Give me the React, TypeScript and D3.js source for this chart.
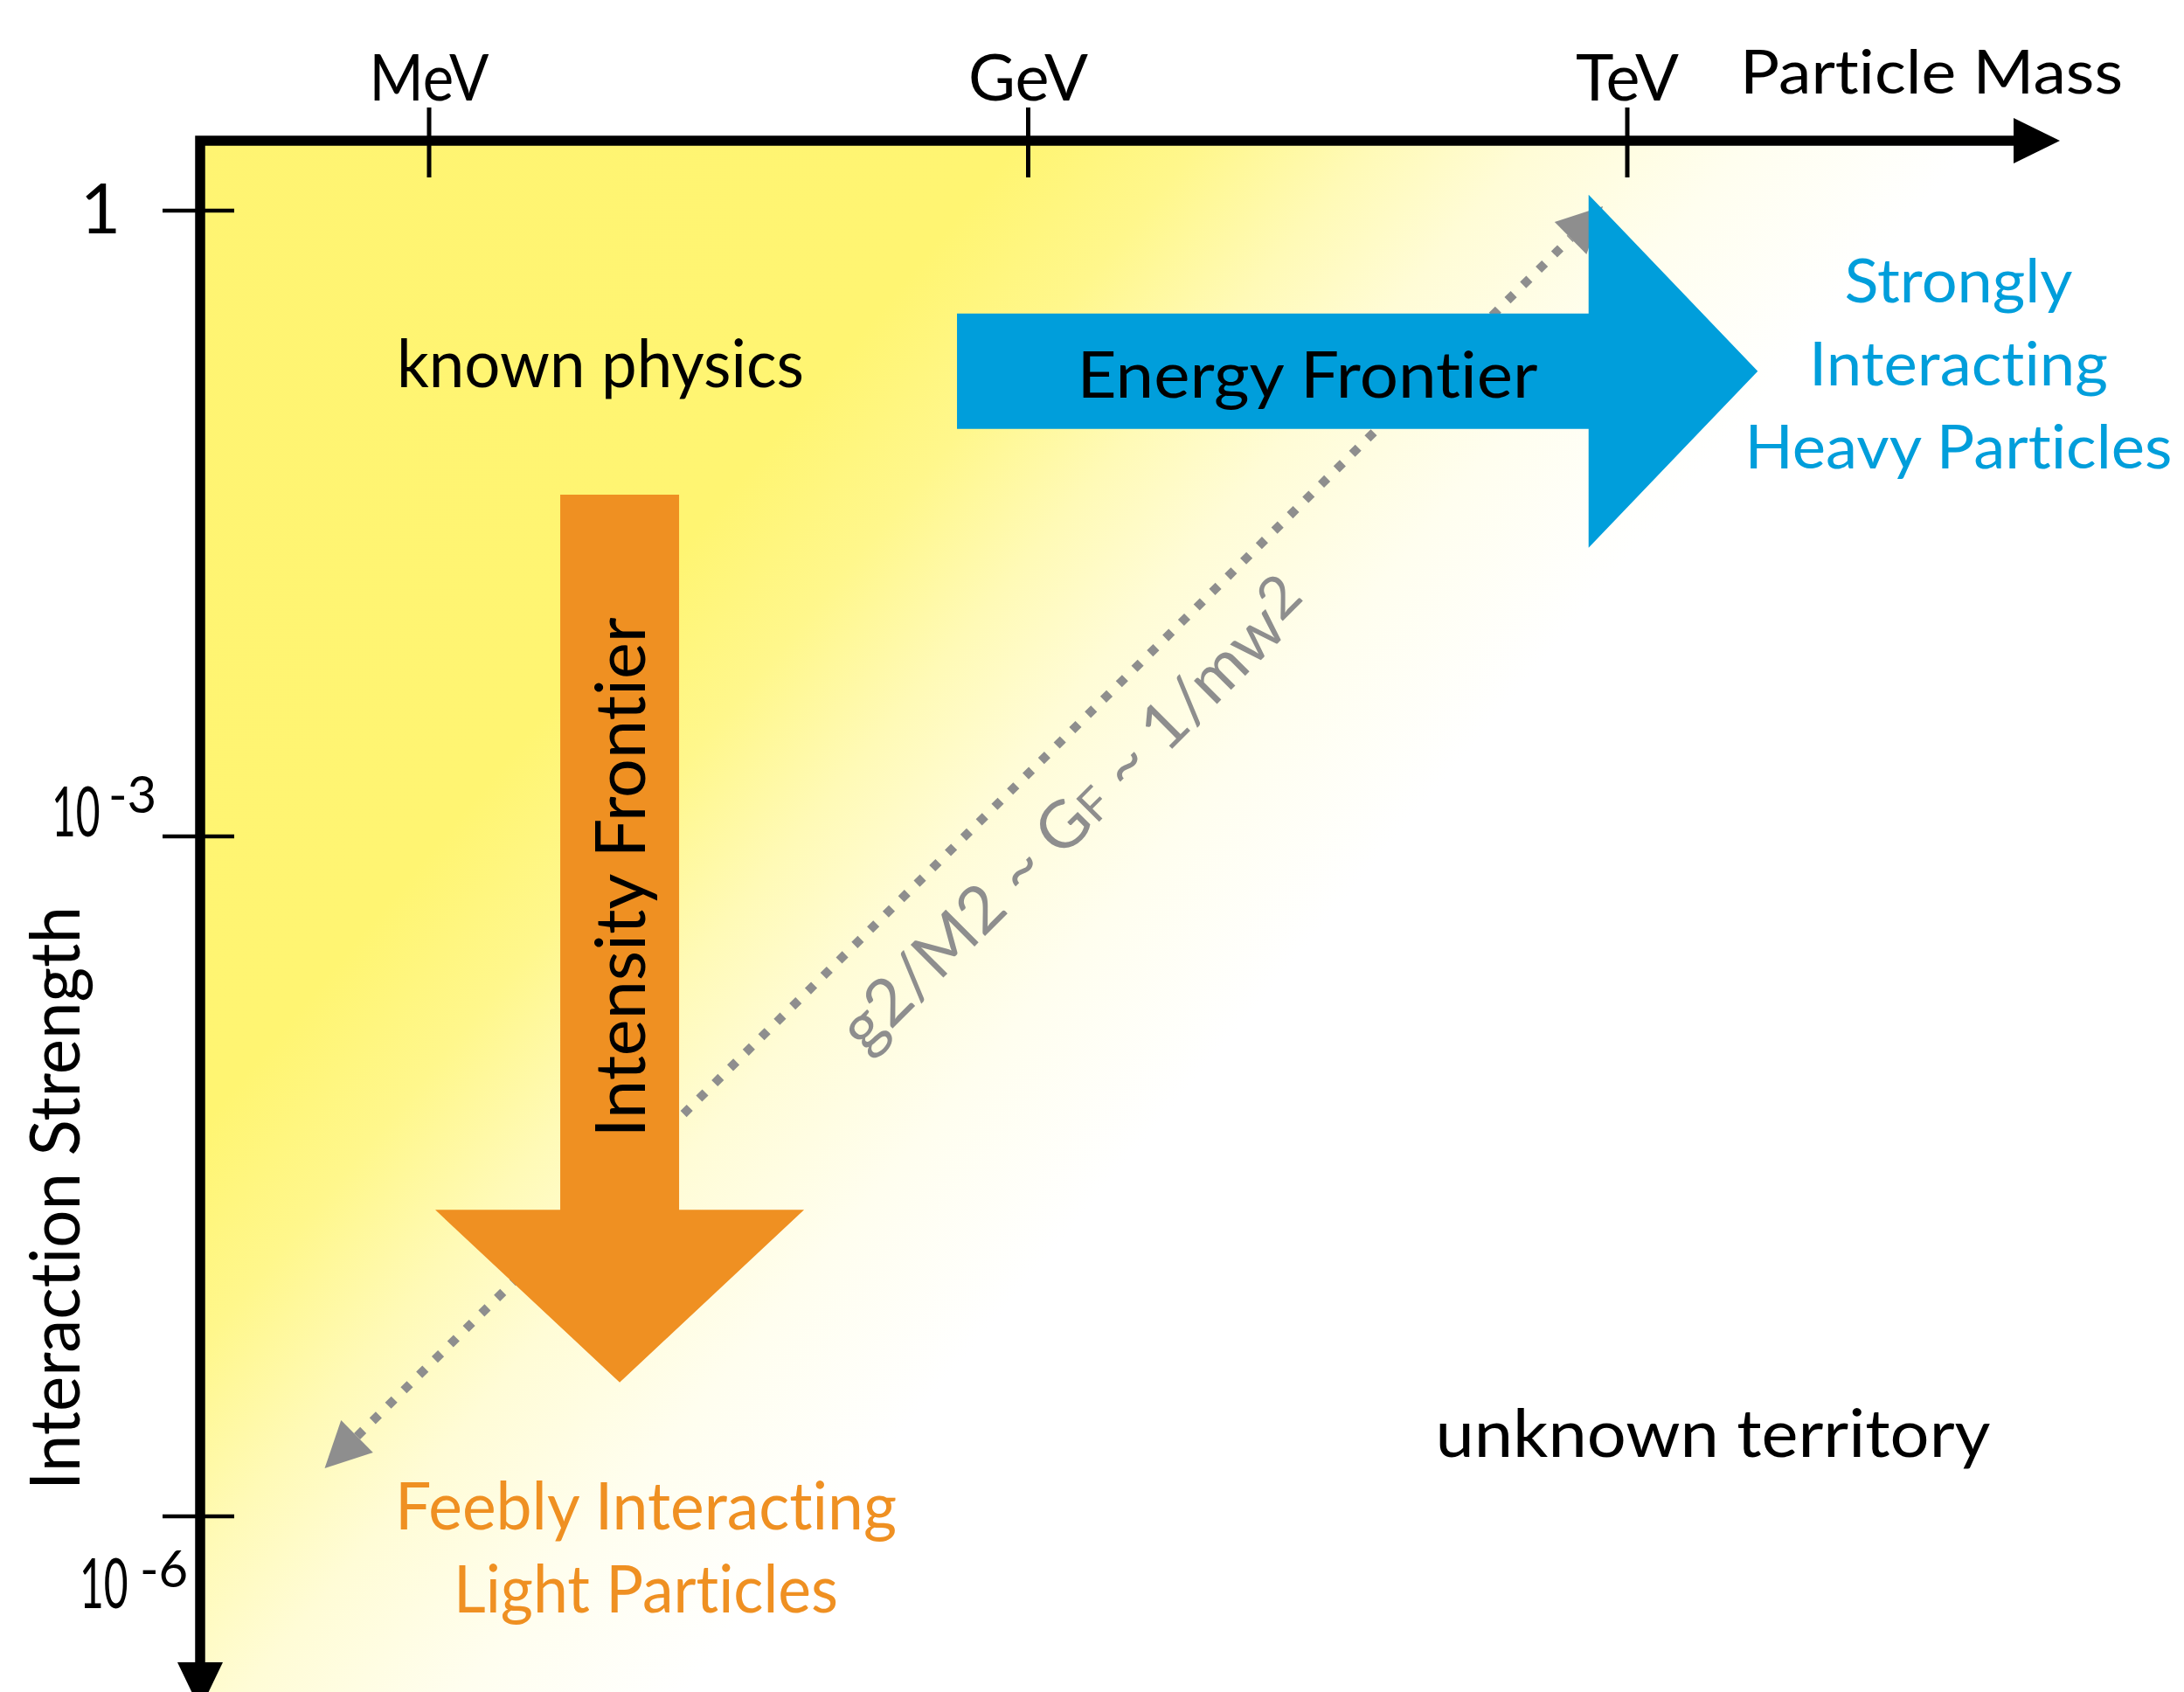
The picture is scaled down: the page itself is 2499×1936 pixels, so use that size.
import { FC, ReactNode } from 'react';
import * as d3 from 'd3';

const WIDTH = 2499;
const HEIGHT = 1936;
const FONT = "Lato, 'Open Sans', sans-serif";

// axis ticks (particle mass in eV, interaction strength)
const massTicks = [1e6, 1e9, 1e12];
const massLabels = ['MeV', 'GeV', 'TeV'];
const couplingTicks = [1, 1e-3, 1e-6];
const couplingBase = ['1', '10', '10'];
const couplingExp = ['', '-3', '-6'];

// annotations, in data units (mass eV / coupling)
const energyMass = [4.4e8, 6.4e11, 4.5e12]; // shaft start, head base, tip
const energyCoupling = 0.17;
const intensityMass = 9e6;
const intensityCoupling = [0.0435, 2.25e-5, 3.9e-6]; // shaft start, head base, tip
const scalingMass = [3.0e5, 7.55e11];
const scalingCoupling = [1.63e-6, 1.05];

const heavyLines = ['Strongly', 'Interacting', 'Heavy Particles'];
const lightLines = ['Feebly Interacting', 'Light Particles'];

const BLUE = '#009edb';
const ORANGE = '#ef9022';
const GRAY = '#8e8e8e';

interface LabelProps {
  x: number;
  y: number;
  len?: number;
  size: number;
  fill?: string;
  anchor?: 'start' | 'middle' | 'end';
  rotate?: number;
  children: ReactNode;
}

const Label: FC<LabelProps> = ({ x, y, len, size, fill = '#000', anchor = 'middle', rotate = 0, children }) => (
  <text
    x={x}
    y={y}
    fontSize={size}
    fill={fill}
    textAnchor={anchor}
    textLength={len}
    lengthAdjust={len ? 'spacingAndGlyphs' : undefined}
    transform={rotate ? `rotate(${rotate} ${x} ${y})` : undefined}
  >
    {children}
  </text>
);

// "10" squeezed narrow like the original face, exponent raised beside it
const PowerLabel: FC<{ x: number; y: number; expX: number; expY: number; base: string; exp: string }> = ({
  x, y, expX, expY, base, exp,
}) => (
  <g>
    <text transform={`translate(${x},${y}) scale(0.6,1)`} fontSize={80}>{base}</text>
    <text x={expX} y={expY} fontSize={58}>{exp}</text>
  </g>
);

const App: FC = () => {
  const xScale = d3.scaleLog().domain([1e6, 1e12]).range([491, 1862]);
  const yScale = d3.scaleLog().domain(couplingTicks).range([241, 957, 1735]);

  const axisX = 229;
  const axisY = 161;

  // energy frontier arrow (pointing right)
  const ey = yScale(energyCoupling);
  const [ex0, ex1, ex2] = energyMass.map((m) => xScale(m));
  const energyPath = d3.line()([
    [ex0, ey - 66], [ex1, ey - 66], [ex1, ey - 202], [ex2, ey],
    [ex1, ey + 202], [ex1, ey + 66], [ex0, ey + 66],
  ]) + 'Z';

  // intensity frontier arrow (pointing down)
  const ix = xScale(intensityMass);
  const [iy0, iy1, iy2] = intensityCoupling.map((c) => yScale(c));
  const intensityPath = d3.line()([
    [ix - 68, iy0], [ix + 68, iy0], [ix + 68, iy1], [ix + 211, iy1],
    [ix, iy2], [ix - 211, iy1], [ix - 68, iy1],
  ]) + 'Z';

  // g^2/M^2 scaling line, double headed
  const sx0 = xScale(scalingMass[0]);
  const sy0 = yScale(scalingCoupling[0]);
  const sx1 = xScale(scalingMass[1]);
  const sy1 = yScale(scalingCoupling[1]);
  const sLen = Math.hypot(sx1 - sx0, sy1 - sy0);
  const ux = (sx1 - sx0) / sLen;
  const uy = (sy1 - sy0) / sLen;
  const headL = 52;
  const headW = 26;
  const b0: [number, number] = [sx0 + ux * headL, sy0 + uy * headL];
  const b1: [number, number] = [sx1 - ux * headL, sy1 - uy * headL];
  const head = (tip: [number, number], base: [number, number]) =>
    d3.line()([
      tip,
      [base[0] - uy * headW, base[1] + ux * headW],
      [base[0] + uy * headW, base[1] - ux * headW],
    ]) + 'Z';

  const y1 = yScale(couplingTicks[1]);
  const y2 = yScale(couplingTicks[2]);

  return (
    <svg
      width={WIDTH}
      height={HEIGHT}
      style={{ position: 'absolute', left: 0, top: 0, background: '#fff', fontVariantLigatures: 'none' }}
      fontFamily={FONT}
    >
      <defs>
        <linearGradient id="bgGrad" gradientUnits="userSpaceOnUse" x1={0} y1={0} x2={1540} y2={1280}>
          <stop offset="0" stopColor="#fff472" />
          <stop offset="0.5" stopColor="#fff572" />
          <stop offset="0.58" stopColor="#fff78c" />
          <stop offset="0.655" stopColor="#fffab6" />
          <stop offset="0.725" stopColor="#fffcd6" />
          <stop offset="0.82" stopColor="#fffeef" />
          <stop offset="0.92" stopColor="#ffffff" />
        </linearGradient>
      </defs>

      <rect x={axisX} y={axisY} width={2350 - axisX} height={HEIGHT - axisY} fill="url(#bgGrad)" />

      {/* scaling line */}
      <line
        x1={b0[0]}
        y1={b0[1]}
        x2={b1[0]}
        y2={b1[1]}
        stroke={GRAY}
        strokeWidth={10}
        strokeDasharray="10 15"
      />
      <path d={head([sx0, sy0], b0)} fill={GRAY} />
      <path d={head([sx1, sy1], b1)} fill={GRAY} />
      <text
        x={1247}
        y={951}
        fontSize={74}
        fill={GRAY}
        textAnchor="middle"
        textLength={725}
        lengthAdjust="spacingAndGlyphs"
        transform="rotate(-45 1247 951)"
      >
        g2/M2 ~ G<tspan fontSize={52}>F</tspan> ~ 1/mw<tspan fontSize={66} dy={-14}>2</tspan>
      </text>

      {/* frontier arrows */}
      <path d={intensityPath} fill={ORANGE} />
      <path d={energyPath} fill={BLUE} />

      <Label x={1496} y={455} len={527} size={74}>Energy Frontier</Label>
      <Label x={738} y={1004} len={595} size={80} rotate={-90}>Intensity Frontier</Label>
      <Label x={687} y={443} len={466} size={76}>known physics</Label>
      <Label x={1960} y={1667} len={635} size={76}>unknown territory</Label>

      {heavyLines.map((t, i) => (
        <Label key={t} x={2241} y={346 + i * 95} len={[261, 342, 489][i]} size={70} fill={BLUE}>{t}</Label>
      ))}
      {lightLines.map((t, i) => (
        <Label key={t} x={739} y={1750 + i * 95} len={[574, 440][i]} size={76} fill={ORANGE}>{t}</Label>
      ))}

      {/* axes */}
      <path
        d={`M${axisX},1905 L${axisX},${axisY} L2306,${axisY}`}
        fill="none"
        stroke="#000"
        strokeWidth={11.5}
        strokeLinejoin="miter"
        strokeLinecap="square"
      />
      <path d={`M2304,${axisY - 26} L2357,${axisY} L2304,${axisY + 26}Z`} fill="#000" />
      <path d={`M${axisX - 26},1902 L${axisX + 26},1902 L${axisX},1956Z`} fill="#000" />

      {massTicks.map((m, i) => (
        <g key={massLabels[i]}>
          <line x1={xScale(m)} x2={xScale(m)} y1={123} y2={203} stroke="#000" strokeWidth={5} />
          <Label x={xScale(m)} y={115} len={[137, 137, 118][i]} size={74}>{massLabels[i]}</Label>
        </g>
      ))}
      <Label x={2210} y={107} len={438} size={70}>Particle Mass</Label>

      {couplingTicks.map((c, i) => (
        <line key={i} x1={186} x2={268} y1={yScale(c)} y2={yScale(c)} stroke="#000" strokeWidth={4.5} />
      ))}
      <Label x={115} y={yScale(couplingTicks[0]) + 26} size={80}>{couplingBase[0]}</Label>
      <PowerLabel x={59} y={y1} expX={124} expY={y1 - 27} base={couplingBase[1]} exp={couplingExp[1]} />
      <PowerLabel x={91} y={y2 + 105} expX={160} expY={y2 + 81} base={couplingBase[2]} exp={couplingExp[2]} />
      <Label x={91} y={1371} len={668} size={80} rotate={-90}>Interaction Strength</Label>
    </svg>
  );
};

export default App;
